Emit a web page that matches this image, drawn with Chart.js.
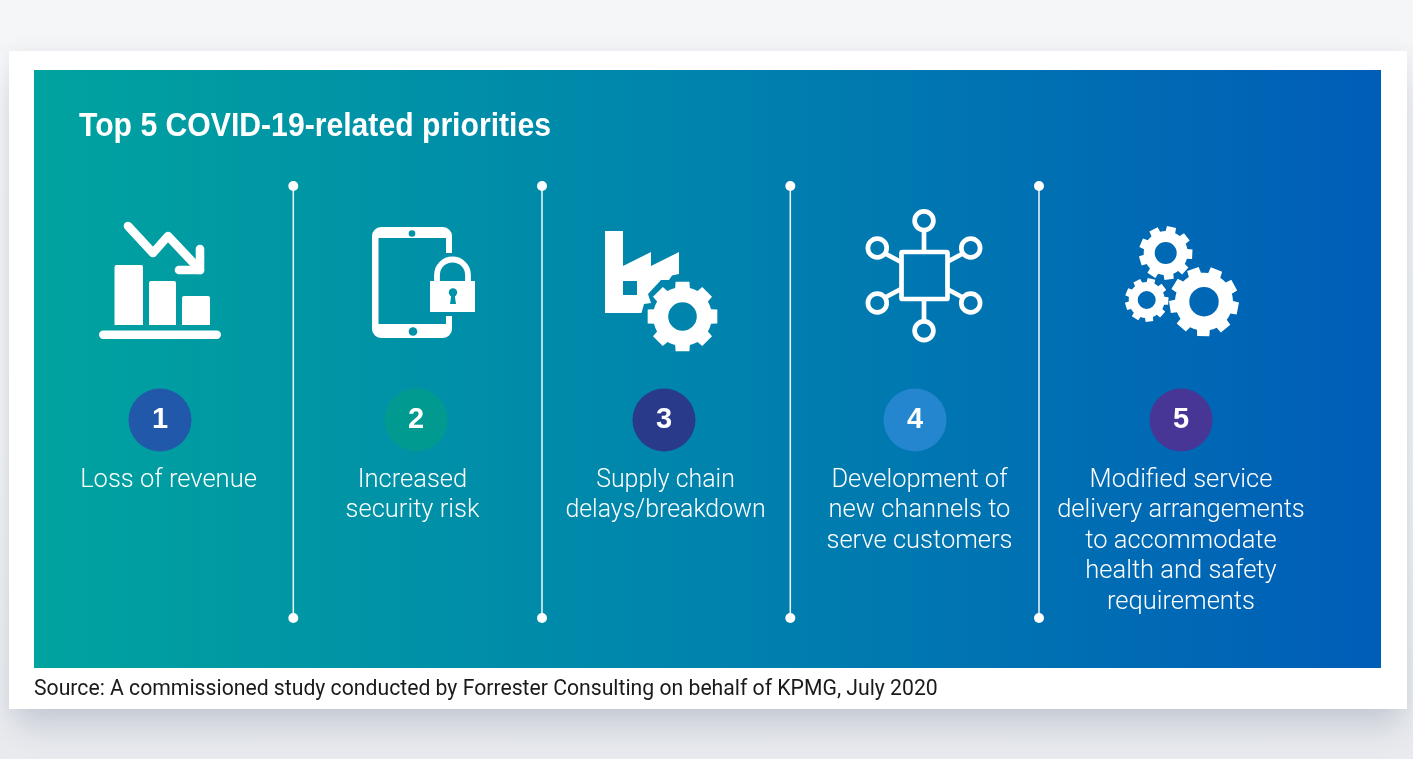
<!DOCTYPE html>
<html><head><meta charset="utf-8">
<style>
html,body{margin:0;padding:0;width:1413px;height:759px;overflow:hidden;background:linear-gradient(#f5f6f8 0,#f3f4f6 60%,#e9ebef 100%)}
#card{position:absolute;left:9px;top:51px;width:1398px;height:658px;background:#fff;box-shadow:0 24px 30px -6px rgba(170,176,190,.55),0 0 12px rgba(200,204,212,.3)}
canvas{position:absolute;left:0;top:0;display:block}
</style>
<script src="https://cdn.jsdelivr.net/npm/chart.js@4"></script>
</head><body><div id="card"></div><canvas id="c" width="1413" height="759"></canvas>
<script>
const titleText = 'Top 5 COVID-19-related priorities';
const sourceText = 'Source: A commissioned study conducted by Forrester Consulting on behalf of KPMG, July 2020';
const ranks = ['1','2','3','4','5'];
const badgeX = [160,416,664,915,1181];
const badgeColors = ['#2158a9','#009a90','#2a3a8a','#2386cf','#483697'];
const labelX = [168.5,412.5,665.5,919.5,1181];
const labelSizes = [25.5,25.5,24.9,25.5,25.5];
const labelLines = [
  ['Loss of revenue'],
  ['Increased','security risk'],
  ['Supply chain','delays/breakdown'],
  ['Development of','new channels to','serve customers'],
  ['Modified service','delivery arrangements','to accommodate','health and safety','requirements']
];
const dividerX = [293.3,542,790.3,1039];
const BADGE_Y = 420, DIV_TOP = 186, DIV_BOTTOM = 618;

function gear(ctx,cx,cy,ro,ri,hole,n,rot){
  const step = Math.PI*2/n, t = step*0.25, b = step*0.32;
  ctx.beginPath();
  for(let i=0;i<n;i++){
    const a = rot+i*step;
    const pts = [[ri,a-b],[ro,a-t],[ro,a+t],[ri,a+b]];
    pts.forEach(p=>ctx.lineTo(cx+p[0]*Math.cos(p[1]),cy+p[0]*Math.sin(p[1])));
    ctx.arc(cx,cy,ri,a+b,a+step-b);
  }
  ctx.closePath();
  ctx.moveTo(cx+hole,cy);
  ctx.arc(cx,cy,hole,0,Math.PI*2,true);
  ctx.fill('evenodd');
}
function icon1(ctx){
  ctx.beginPath();ctx.roundRect(114.5,265,28.5,60,[2,2,0,0]);ctx.roundRect(149,281,27,44,[2,2,0,0]);ctx.roundRect(182,296,28,29,[2,2,0,0]);ctx.fill();
  ctx.beginPath();ctx.roundRect(99,330.5,122,8.5,4.2);ctx.fill();
  ctx.lineWidth=8.6;ctx.lineCap='round';ctx.lineJoin='round';
  ctx.beginPath();ctx.moveTo(128,226);ctx.lineTo(153,253);ctx.lineTo(168,236);ctx.lineTo(200,270);ctx.stroke();
  ctx.beginPath();ctx.moveTo(200,249);ctx.lineTo(200,270);ctx.lineTo(179,270);ctx.stroke();
}
function icon2(ctx){
  ctx.save();
  ctx.beginPath();ctx.rect(360,220,130,130);ctx.rect(440,253,30,63);ctx.clip('evenodd');
  ctx.beginPath();ctx.roundRect(372,227,80,111,9);ctx.rect(378.5,238,67.5,86);ctx.fill('evenodd');
  ctx.restore();
  ctx.fillStyle='#0092a8';
  ctx.beginPath();ctx.arc(412,233.5,3.3,0,7);ctx.fill();
  ctx.beginPath();ctx.arc(413,331.5,4.3,0,7);ctx.fill();
  ctx.fillStyle='#fff';
  ctx.lineWidth=5.8;ctx.lineCap='butt';
  ctx.beginPath();ctx.moveTo(437,282);ctx.lineTo(437,275);ctx.arc(452.5,275,15.5,Math.PI,0);ctx.lineTo(468,282);ctx.stroke();
  ctx.beginPath();ctx.rect(430,281,45,31);ctx.fill();
  ctx.fillStyle='#0092a8';
  ctx.beginPath();ctx.arc(453,292.5,4.2,0,7);ctx.fill();
  ctx.beginPath();ctx.moveTo(451.5,294);ctx.lineTo(450,304);ctx.lineTo(456,304);ctx.lineTo(454.5,294);ctx.closePath();ctx.fill();
}
function icon3(ctx){
  const f=[[605,231],[623,231],[623,266],[651,252],[651,266],[679,252],[679,274],[672,275.5],[669,280],[661,280],[648,294],[651,303],[644,304],[641.5,313],[605,313]];
  ctx.beginPath();f.forEach((p,i)=>i?ctx.lineTo(p[0],p[1]):ctx.moveTo(p[0],p[1]));ctx.closePath();
  ctx.rect(623,281,14,14);ctx.fill('evenodd');
  gear(ctx,682.5,316.5,35.5,29.5,14.3,8,-Math.PI/2);
}
function icon4(ctx){
  ctx.lineWidth=4.7;ctx.lineCap='round';ctx.lineJoin='round';
  ctx.beginPath();ctx.roundRect(901.5,252,46,47,1);ctx.stroke();
  [[924,220.7],[924,330.7],[877.3,248],[970.7,248],[877.3,303],[970.7,303]].forEach(c=>{ctx.beginPath();ctx.arc(c[0],c[1],9.4,0,7);ctx.stroke();});
  ctx.lineCap='butt';
  ctx.beginPath();
  ctx.moveTo(924,231);ctx.lineTo(924,252);ctx.moveTo(924,299);ctx.lineTo(924,320);
  ctx.moveTo(886,254);ctx.lineTo(901,262);ctx.moveTo(962,254);ctx.lineTo(947,262);
  ctx.moveTo(886,297);ctx.lineTo(901,289);ctx.moveTo(962,297);ctx.lineTo(947,289);
  ctx.stroke();
}
function icon5(ctx){
  gear(ctx,1165.7,253,27,22,11,9,-1.35);
  gear(ctx,1146.7,300,22,18,9,9,-1.35);
  gear(ctx,1204,301.7,35,29,14.7,9,-1.2);
}

const graphicPlugin = {
  id:'graphic',
  beforeDatasetsDraw(chart){
    const ctx=chart.ctx,{x,y}=chart.scales;
    const l=x.getPixelForValue(34),r=x.getPixelForValue(1381),t=y.getPixelForValue(70),b=y.getPixelForValue(668);
    const g=ctx.createLinearGradient(l,0,r,0);
    g.addColorStop(0,'#00a39f');g.addColorStop(.5,'#0083ad');g.addColorStop(1,'#005db8');
    ctx.save();ctx.fillStyle=g;ctx.fillRect(l,t,r-l,b-t);ctx.restore();
  },
  afterDatasetsDraw(chart){
    const ctx=chart.ctx,{x,y}=chart.scales;
    ctx.save();
    ctx.fillStyle='#fff';ctx.textBaseline='alphabetic';ctx.textAlign='left';
    ctx.font='bold 32.5px "Liberation Sans"';
    ctx.fillText(titleText,x.getPixelForValue(79),y.getPixelForValue(135.5),472);
    ctx.textAlign='center';
    labelLines.forEach((lines,i)=>{
      ctx.font='300 '+labelSizes[i]+'px Roboto';
      lines.forEach((s,j)=>ctx.fillText(s,x.getPixelForValue(labelX[i]),y.getPixelForValue(486.5+j*30.5)));
    });
    ctx.font='bold 29px "Liberation Sans"';ctx.textBaseline='middle';
    ranks.forEach((s,i)=>ctx.fillText(s,x.getPixelForValue(badgeX[i]),y.getPixelForValue(BADGE_Y)));
    ctx.textBaseline='alphabetic';ctx.textAlign='left';ctx.fillStyle='#1a1a1a';
    ctx.font='400 21.2px Roboto';
    ctx.fillText(sourceText,x.getPixelForValue(34),y.getPixelForValue(695));
    ctx.restore();
    ctx.save();
    ctx.translate(x.getPixelForValue(0),y.getPixelForValue(0));
    ctx.fillStyle='#fff';ctx.strokeStyle='#fff';
    [icon1,icon2,icon3,icon4,icon5].forEach(f=>{ctx.save();f(ctx);ctx.restore();});
    ctx.restore();
  }
};

const datasets = dividerX.map(v=>({
  type:'scatter',showLine:true,data:[{x:v,y:DIV_TOP},{x:v,y:DIV_BOTTOM}],
  borderColor:'rgba(255,255,255,.95)',borderWidth:1.5,pointRadius:5,pointBackgroundColor:'#fff',pointBorderWidth:0,clip:false
}));
datasets.push({
  type:'scatter',showLine:false,data:badgeX.map(v=>({x:v,y:BADGE_Y})),
  pointRadius:31.5,pointBackgroundColor:badgeColors,pointBorderWidth:0,clip:false
});
new Chart(document.getElementById('c'),{
  type:'scatter',
  data:{datasets},
  options:{
    responsive:false,animation:false,devicePixelRatio:1,
    layout:{padding:0,autoPadding:false},
    plugins:{legend:{display:false},tooltip:{enabled:false},title:{display:false}},
    scales:{
      x:{type:'linear',min:0,max:1413,display:false},
      y:{type:'linear',min:0,max:759,reverse:true,display:false}
    }
  },
  plugins:[graphicPlugin]
});
</script></body></html>
